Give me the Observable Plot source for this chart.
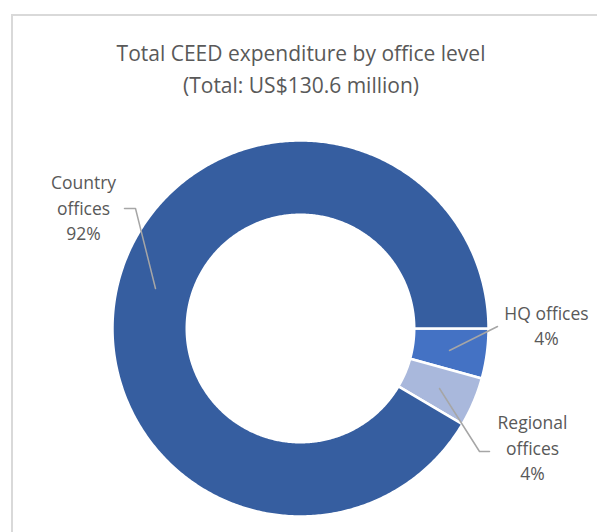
<!DOCTYPE html>
<html>
<head>
<meta charset="utf-8">
<script src="https://cdn.jsdelivr.net/npm/d3@7"></script>
<script src="https://cdn.jsdelivr.net/npm/@observablehq/plot@0.6"></script>
<style>
  html, body { margin: 0; padding: 0; background: #fff; }
  #wrap { position: relative; width: 597px; height: 532px; overflow: hidden; font-family: "Open Sans", sans-serif; }
  #frame { position: absolute; left: 11px; top: 14px; width: 600px; height: 600px; border-left: 2px solid #d9d9d9; border-top: 2px solid #d9d9d9; }
  #title { position: absolute; left: 0; width: 602px; top: 37px; text-align: center; color: #595959; font-size: 21px; line-height: 32px; }
  #chart { position: absolute; left: 0; top: 0; }
</style>
</head>
<body>
<div id="wrap">
  <div id="frame"></div>
  <div id="chart"></div>
  <div id="title">Total CEED expenditure by office level<br>(Total: US$130.6 million)</div>
</div>
<script>
// ---- data ----
const offices = ["HQ offices", "Regional offices", "Country offices"];
const spendMillions = [5.6, 5.5, 119.5];
const shareLabels = ["4%", "4%", "92%"];
const labelNames = ["HQ offices", "Regional\noffices", "Country\noffices"];
const sliceColors = ["#4472c4", "#a9b8dc", "#365ea0"];

// ---- layout (pixels) ----
const W = 597, H = 532;
const cx = 300, cy = 328, R = 188, innerFrac = 0.605;
const labelPx = [[546, 324], [532, 446], [83, 206]];
const leaderPx = [
  [[449, 350], [497, 326]],
  [[439, 388], [479, 451], [489, 451]],
  [[124, 208], [135, 208], [155, 288]]
];
const toX = px => (px - cx) / R;
const toY = py => (cy - py) / R;

// ---- slices via d3.pie ----
const pie = d3.pie().sort(null).startAngle(Math.PI / 2).endAngle(Math.PI / 2 + 2 * Math.PI);
const arcs = pie(spendMillions);
const ringPts = [];
arcs.forEach((a, i) => {
  const n = Math.max(2, Math.ceil((a.endAngle - a.startAngle) / 0.01));
  const seg = [];
  for (let k = 0; k <= n; k++) {
    const t = a.startAngle + (a.endAngle - a.startAngle) * k / n;
    seg.push({x: Math.sin(t), y: Math.cos(t)});
  }
  for (let k = n; k >= 0; k--) {
    const t = a.startAngle + (a.endAngle - a.startAngle) * k / n;
    seg.push({x: innerFrac * Math.sin(t), y: innerFrac * Math.cos(t)});
  }
  seg.push(seg[0]);
  seg.forEach(p => ringPts.push({...p, slice: offices[i]}));
});

const leaderPts = [];
leaderPx.forEach((pts, i) => pts.forEach(([px, py]) => leaderPts.push({x: toX(px), y: toY(py), slice: offices[i]})));

const labels = offices.map((o, i) => ({
  x: toX(labelPx[i][0]), y: toY(labelPx[i][1]),
  text: labelNames[i] + "\n" + shareLabels[i]
}));

const plot = Plot.plot({
  width: W, height: H, margin: 0,
  style: {background: "transparent", fontFamily: "Open Sans, sans-serif"},
  x: {domain: [toX(0), toX(W)], axis: null},
  y: {domain: [toY(H), toY(0)], axis: null},
  color: {domain: offices, range: sliceColors},
  marks: [
    Plot.line(ringPts, {x: "x", y: "y", z: "slice", fill: "slice", stroke: "white", strokeWidth: 2.5, curve: "linear"}),
    Plot.line(leaderPts, {x: "x", y: "y", z: "slice", stroke: "#a6a6a6", strokeWidth: 1.5}),
    Plot.text(labels, {x: "x", y: "y", text: "text", fill: "#595959", fontSize: 17.5, lineHeight: 1.43, textAnchor: "middle"})
  ]
});
document.getElementById("chart").appendChild(plot);
</script>
</body>
</html>
